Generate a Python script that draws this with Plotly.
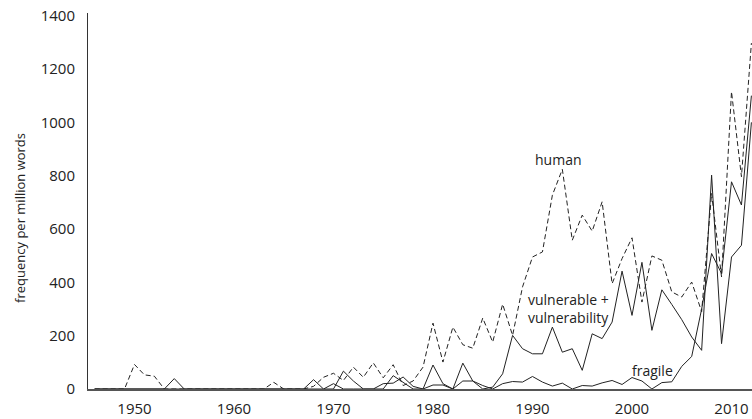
import plotly.graph_objects as go

years = list(range(1946, 2013))

human = [
    0, 0, 0, 0, 92, 53, 48, 0, 0, 0,          # 1946-1955
    0, 0, 0, 0, 0, 0, 0, 0, 25, 0,            # 1956-1965
    0, 0, 10, 44, 59, 32, 82, 44, 98, 42,     # 1966-1975
    91, 13, 30, 82, 247, 101, 232, 166, 153, 266,  # 1976-1985
    176, 318, 201, 383, 495, 514, 727, 824, 558, 652,  # 1986-1995
    592, 702, 395, 489, 567, 326, 499, 483, 364, 345,  # 1996-2005
    401, 290, 733, 420, 1115, 796, 1297        # 2006-2012
]

vulnerable = [
    0, 0, 0, 0, 0, 0, 0, 0, 0, 0,
    0, 0, 0, 0, 0, 0, 0, 0, 0, 0,
    0, 0, 35, 0, 0, 67, 30, 0, 0, 20,
    22, 45, 10, 0, 90, 20, 0, 97, 30, 0,
    7, 57, 201, 151, 132, 132, 232, 138, 151, 70,
    207, 189, 251, 442, 276, 475, 220, 372, 317, 260,
    195, 145, 802, 170, 495, 539, 1000
]

fragile = [
    0, 0, 0, 0, 0, 0, 0, 0, 39, 0,
    0, 0, 0, 0, 0, 0, 0, 0, 0, 0,
    0, 0, 0, 0, 20, 0, 0, 0, 0, 0,
    50, 25, 0, 0, 15, 15, 0, 30, 30, 13,
    0, 20, 28, 26, 47, 26, 11, 22, 0, 13,
    11, 23, 32, 17, 43, 30, 0, 24, 27, 85,
    122, 300, 508, 433, 777, 690, 1100
]

y_ticks = [0, 200, 400, 600, 800, 1000, 1200, 1400]
x_ticks = [1950, 1960, 1970, 1980, 1990, 2000, 2010]

FONT = "Open Sans"
INK = "#222222"

fig = go.Figure()
fig.add_trace(go.Scatter(x=years, y=fragile, mode="lines",
                         line=dict(color=INK, width=1), name="fragile"))
fig.add_trace(go.Scatter(x=years, y=vulnerable, mode="lines",
                         line=dict(color=INK, width=1), name="vulnerable + vulnerability"))
fig.add_trace(go.Scatter(x=years, y=human, mode="lines",
                         line=dict(color=INK, width=1, dash="5px,3px"), name="human"))

fig.update_layout(
    width=752, height=419,
    margin=dict(l=88, r=0, t=13, b=30),
    paper_bgcolor="white", plot_bgcolor="white",
    showlegend=False,
    font=dict(family=FONT, size=14, color=INK),
    xaxis=dict(range=[1945.33, 2012.06], tickvals=x_ticks, showgrid=False,
               zeroline=False, showline=True, linecolor="#555555", linewidth=1.5,
               ticks="", ticklabelstandoff=5, tickfont=dict(size=15)),
    yaxis=dict(range=[0, 1410], tickvals=y_ticks, showgrid=False,
               zeroline=False, showline=True, linecolor="#333333", linewidth=1,
               ticks="", ticklabelstandoff=9, tickfont=dict(size=15)),
    annotations=[
        dict(text="frequency per million words", xref="paper", yref="paper",
             x=-0.1024, y=0.455, textangle=-90, showarrow=False,
             font=dict(size=13), xanchor="center", yanchor="middle"),
        dict(text="human", x=1992.66, y=859, showarrow=False,
             font=dict(size=14), xanchor="center", yanchor="middle"),
        dict(text="vulnerable +<br>vulnerability", x=1989.35, y=302, showarrow=False,
             font=dict(size=14), xanchor="left", yanchor="middle", align="left"),
        dict(text="fragile", x=2002.08, y=70, showarrow=False,
             font=dict(size=14), xanchor="center", yanchor="middle"),
    ],
)

# remove the browser's default 8px page margin so the 752x419 figure fills the window
fig.write_html("out.html",
               config={"displayModeBar": False, "staticPlot": True},
               post_script="document.body.style.margin='0';"
                           "document.body.style.overflow='hidden';")
